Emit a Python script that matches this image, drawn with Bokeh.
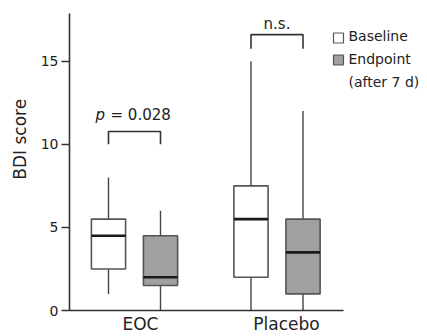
from bokeh.plotting import figure
from bokeh.models import ColumnDataSource, FixedTicker, Range1d, Label
from bokeh.embed import file_html
from bokeh.resources import INLINE

# ---- data ----
groups = ["EOC", "Placebo"]
group_pos = [1.0, 2.0]
conditions = ["Baseline", "Endpoint"]
# per box: [EOC-Baseline, EOC-Endpoint, Placebo-Baseline, Placebo-Endpoint]
whisker_low = [1.0, 0.0, 0.0, 0.0]
q1 = [2.5, 1.5, 2.0, 1.0]
median = [4.5, 2.0, 5.5, 3.5]
q3 = [5.5, 4.5, 7.5, 5.5]
whisker_high = [8.0, 6.0, 15.0, 12.0]
y_ticks = [0, 5, 10, 15]
p_value_text = "= 0.028"
ns_text = "n.s."
bracket_low = [10.0, 15.75]
bracket_high = [10.77, 16.6]
legend_labels = ["Baseline", "Endpoint", "(after 7 d)"]

# ---- layout (canvas pixels) ----
W, H = 427, 336
PX_PER_X = 142.5
PX_PER_Y = 16.62
X_CENTER_PX = [134, 276.5]
FL, FR, FT, FB = 69, 427, 0, 310   # frame edges
XR = (group_pos[0] - (X_CENTER_PX[0] - FL) / PX_PER_X,
      group_pos[0] - (X_CENTER_PX[0] - FL) / PX_PER_X + (FR - FL) / PX_PER_X)
YR = (0.0, (FB - FT) / PX_PER_Y)
X_AXIS_END_PX = 343
Y_AXIS_TOP_PX = 13

def sx_to_x(sx):
    return XR[0] + (sx - FL) / PX_PER_X
def sy_to_y(sy):
    return YR[0] + (FB - sy) / PX_PER_Y

offset = 0.1825
box_w = 0.24
fills = ["white", "#a0a0a0"]
FONT = "DejaVu Sans"
TXT = "#222222"

xs = []
for g in group_pos:
    xs += [g - offset, g + offset]
box_fill = [fills[0], fills[1], fills[0], fills[1]]

p = figure(width=W, height=H, output_backend="svg", toolbar_location=None,
           x_range=Range1d(*XR), y_range=Range1d(*YR),
           min_border_left=FL, min_border_right=W - FR, min_border_top=FT, min_border_bottom=H - FB)
p.outline_line_color = None
p.xgrid.grid_line_color = None
p.ygrid.grid_line_color = None
p.background_fill_color = "white"
p.border_fill_color = "white"

src = ColumnDataSource(dict(x=xs, lo=whisker_low, q1=q1, med=median, q3=q3, hi=whisker_high, fill=box_fill,
                            x0=[x - box_w / 2 for x in xs], x1=[x + box_w / 2 for x in xs]))
p.segment(x0="x", y0="lo", x1="x", y1="q1", source=src, line_color="#444444", line_width=1.4)
p.segment(x0="x", y0="q3", x1="x", y1="hi", source=src, line_color="#444444", line_width=1.4)
p.vbar(x="x", width=box_w, bottom="q1", top="q3", source=src, fill_color="fill",
       line_color="#555555", line_width=1.6)
p.segment(x0="x0", y0="med", x1="x1", y1="med", source=src, line_color="#1a1a1a", line_width=2.6)

# significance brackets
for g, lo, hi in zip(group_pos, bracket_low, bracket_high):
    p.line([g - offset, g - offset, g + offset, g + offset], [lo, hi, hi, lo],
           line_color="#333333", line_width=1.6)

p.add_layout(Label(x=sx_to_x(95), y=sy_to_y(114), text="p", text_font=FONT, text_font_style="italic",
                   text_font_size="15px", text_align="left", text_baseline="middle", text_color=TXT))
p.add_layout(Label(x=sx_to_x(110), y=sy_to_y(114), text=p_value_text, text_font=FONT,
                   text_font_size="15px", text_align="left", text_baseline="middle", text_color=TXT))
p.add_layout(Label(x=group_pos[1], y=sy_to_y(23), text=ns_text, text_font=FONT,
                   text_font_size="15px", text_align="center", text_baseline="middle", text_color=TXT))

# axes
p.yaxis.ticker = FixedTicker(ticks=y_ticks)
p.yaxis.bounds = (0, sy_to_y(Y_AXIS_TOP_PX))
p.yaxis.axis_label = "\u00a0" * 6 + "BDI score"
p.yaxis.axis_label_text_font = FONT
p.yaxis.axis_label_text_font_style = "normal"
p.yaxis.axis_label_text_font_size = "17px"
p.yaxis.axis_label_text_color = TXT
p.yaxis.axis_label_standoff = 8
p.yaxis.major_label_text_font = FONT
p.yaxis.major_label_text_font_size = "14px"
p.yaxis.major_label_text_color = TXT
p.yaxis.major_tick_out = 8
p.yaxis.major_tick_in = 0
p.yaxis.minor_tick_line_color = None
p.yaxis.major_label_standoff = 3
p.yaxis.axis_line_width = 1.6
p.yaxis.axis_line_color = "#333333"
p.yaxis.major_tick_line_color = "#333333"
p.yaxis.major_tick_line_width = 1.4

label_px = [140, 286]
p.xaxis.ticker = FixedTicker(ticks=[sx_to_x(v) for v in label_px])
p.xaxis.major_label_overrides = {sx_to_x(label_px[0]): groups[0], sx_to_x(label_px[1]): groups[1]}
p.xaxis.bounds = (XR[0], sx_to_x(X_AXIS_END_PX))
p.xaxis.major_label_text_font = FONT
p.xaxis.major_label_text_font_size = "17px"
p.xaxis.major_label_text_color = TXT
p.xaxis.major_tick_line_color = None
p.xaxis.major_tick_out = 0
p.xaxis.major_tick_in = 0
p.xaxis.minor_tick_line_color = None
p.xaxis.major_label_standoff = 3
p.xaxis.axis_line_width = 1.6
p.xaxis.axis_line_color = "#333333"

# legend
leg_sy = [35.5, 58, 81]
for lab, sy in zip(legend_labels, leg_sy):
    p.add_layout(Label(x=sx_to_x(348), y=sy_to_y(sy), text=lab, text_font=FONT, text_font_size="14px",
                       text_align="left", text_baseline="middle", text_color=TXT))
p.rect(x=[sx_to_x(338)] * 2, y=[sy_to_y(37.5), sy_to_y(59.5)], width=10, height=10,
       width_units="screen", height_units="screen", fill_color=fills,
       line_color="#555555", line_width=1.2)

open("out.html", "w").write(file_html(p, INLINE))
